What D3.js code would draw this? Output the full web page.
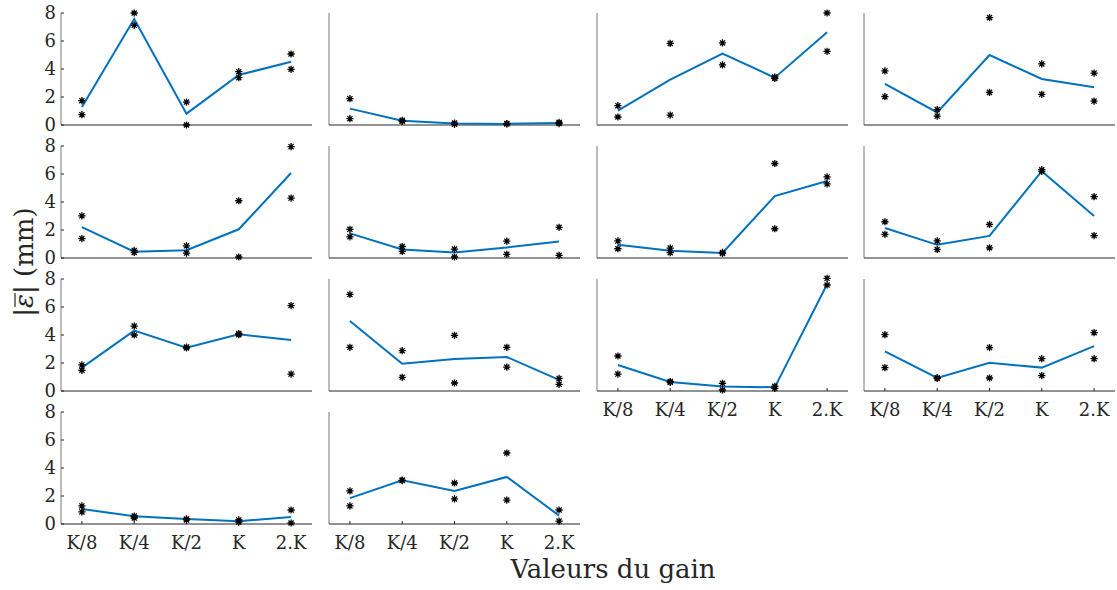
<!DOCTYPE html>
<html>
<head>
<meta charset="utf-8">
<script src="https://cdn.jsdelivr.net/npm/d3@7"></script>
<style>
  body { margin: 0; background: #fff; }
</style>
</head>
<body>
<div id="chart"></div>
<script>
const gains = ['K/8', 'K/4', 'K/2', 'K', '2.K']
const yTicks = [0, 2, 4, 6, 8]

// mean error per gain, one array per panel
const means = [
  [1.29, 7.57, 0.81, 3.57, 4.52],
  [1.17, 0.31, 0.10, 0.08, 0.15],
  [1.02, 3.24, 5.10, 3.38, 6.62],
  [2.93, 0.90, 5.00, 3.29, 2.69],
  [2.21, 0.45, 0.56, 2.05, 6.07],
  [1.76, 0.61, 0.40, 0.75, 1.18],
  [0.94, 0.52, 0.36, 4.42, 5.50],
  [2.14, 0.94, 1.58, 6.20, 3.00],
  [1.67, 4.31, 3.10, 4.05, 3.64],
  [5.00, 1.95, 2.29, 2.43, 0.79],
  [1.86, 0.64, 0.33, 0.26, 7.62],
  [2.83, 0.93, 2.02, 1.67, 3.21],
  [1.07, 0.55, 0.35, 0.20, 0.50],
  [1.85, 3.12, 2.36, 3.36, 0.60]
]
// first and second trial per gain
const trialA = [
  [1.74, 8.00, 1.64, 3.81, 5.07],
  [1.88, 0.33, 0.14, 0.10, 0.19],
  [1.38, 5.83, 5.86, 3.43, 8.00],
  [3.86, 1.10, 7.67, 4.36, 3.71],
  [3.01, 0.54, 0.87, 4.09, 7.95],
  [2.05, 0.82, 0.64, 1.20, 2.19],
  [1.22, 0.71, 0.40, 6.75, 5.79],
  [2.59, 1.22, 2.40, 6.31, 4.38],
  [1.86, 4.64, 3.14, 4.10, 6.10],
  [6.90, 2.88, 3.98, 3.12, 0.90],
  [2.50, 0.67, 0.55, 0.33, 8.05],
  [4.02, 0.95, 3.10, 2.31, 4.17],
  [1.29, 0.57, 0.36, 0.29, 1.00],
  [2.36, 3.14, 2.93, 5.07, 1.00]
]
const trialB = [
  [0.74, 7.12, 0.00, 3.38, 3.98],
  [0.45, 0.26, 0.05, 0.07, 0.10],
  [0.57, 0.71, 4.29, 3.33, 5.26],
  [2.02, 0.64, 2.33, 2.19, 1.71],
  [1.39, 0.40, 0.35, 0.07, 4.28],
  [1.51, 0.47, 0.07, 0.26, 0.19],
  [0.66, 0.38, 0.33, 2.09, 5.29],
  [1.69, 0.61, 0.73, 6.19, 1.60],
  [1.48, 4.00, 3.07, 4.02, 1.21],
  [3.12, 0.98, 0.57, 1.71, 0.48],
  [1.21, 0.62, 0.07, 0.19, 7.57],
  [1.67, 0.90, 0.93, 1.10, 2.31],
  [0.86, 0.43, 0.29, 0.14, 0.07],
  [1.29, 3.10, 1.79, 1.71, 0.21]
]

const width = 1117, height = 590
const nCols = 4
const colLeft = [61, 329, 597, 864]
const rowTop = [13, 146, 279, 412]
const pw = 251, ph = 112
const lineColor = '#0072bd'
const serif = '"DejaVu Serif", "Liberation Serif", serif'

const svg = d3.select('#chart').append('svg')
  .attr('width', width)
  .attr('height', height)
  .style('font-family', serif)

const x = d3.scalePoint().domain(gains).range([0, pw]).padding(0.4)
const y = d3.scaleLinear().domain([0, 8]).range([ph, 0])

// panels with tick labels under them (last panel of each column)
const bottomPanel = i => i + nCols >= means.length

// asterisk marker path
const star = (s) => {
  const d = s * 0.7071
  return `M${-s},0L${s},0M0,${-s}L0,${s}M${-d},${-d}L${d},${d}M${-d},${d}L${d},${-d}`
}

means.forEach((m, i) => {
  const col = i % nCols, row = Math.floor(i / nCols)
  const g = svg.append('g')
    .attr('transform', 'translate(' + colLeft[col] + ',' + rowTop[row] + ')')

  // y axis line
  g.append('line')
    .attr('x1', 0).attr('x2', 0).attr('y1', 0).attr('y2', ph)
    .attr('stroke', '#7a7a7a').attr('stroke-width', 1)

  if (col === 0) {
    g.selectAll('.ytick').data(yTicks).enter().append('line')
      .attr('x1', 0).attr('x2', 3)
      .attr('y1', d => y(d)).attr('y2', d => y(d))
      .attr('stroke', '#262626')
    g.selectAll('.ylab').data(yTicks).enter().append('text')
      .attr('x', -5)
      .attr('y', d => y(d))
      .attr('dy', '0.36em')
      .attr('text-anchor', 'end')
      .attr('font-size', 18)
      .attr('fill', '#262626')
      .text(d => d)
  }

  // x axis line
  g.append('line')
    .attr('x1', 0).attr('x2', pw).attr('y1', ph).attr('y2', ph)
    .attr('stroke', '#262626').attr('stroke-width', 1)

  if (bottomPanel(i)) {
    g.selectAll('.xtick').data(gains).enter().append('line')
      .attr('x1', d => x(d)).attr('x2', d => x(d))
      .attr('y1', ph).attr('y2', ph - 3)
      .attr('stroke', '#262626')
    g.selectAll('.xlab').data(gains).enter().append('text')
      .attr('x', d => x(d))
      .attr('y', ph + 25)
      .attr('text-anchor', 'middle')
      .attr('font-size', 18)
      .attr('fill', '#262626')
      .text(d => d)
  }

  // mean line
  const line = d3.line()
    .x((d, j) => x(gains[j]))
    .y(d => y(d))
  g.append('path')
    .datum(m)
    .attr('d', line)
    .attr('fill', 'none')
    .attr('stroke', lineColor)
    .attr('stroke-width', 2)

  // trial markers
  const pts = []
  gains.forEach((k, j) => {
    pts.push({ k, v: trialA[i][j] })
    pts.push({ k, v: trialB[i][j] })
  })
  g.selectAll('.pt').data(pts).enter().append('path')
    .attr('transform', d => 'translate(' + x(d.k) + ',' + y(d.v) + ')')
    .attr('d', star(3.6))
    .attr('stroke', '#000')
    .attr('stroke-width', 1.3)
    .attr('fill', 'none')
})

// axis titles
svg.append('text')
  .attr('x', 613)
  .attr('y', 578)
  .attr('text-anchor', 'middle')
  .attr('font-size', 26)
  .attr('fill', '#262626')
  .text('Valeurs du gain')

const ylab = svg.append('g')
  .attr('transform', 'translate(33,262) rotate(-90)')
const yt = ylab.append('text')
  .attr('text-anchor', 'middle')
  .attr('font-size', 26)
  .attr('fill', '#262626')
yt.append('tspan').text('|')
yt.append('tspan').attr('font-style', 'italic').text('ε')
yt.append('tspan').text('| (mm)')
// bar over epsilon
const e0 = yt.node().getStartPositionOfChar(1)
const e1 = yt.node().getEndPositionOfChar(1)
ylab.append('line')
  .attr('x1', e0.x + 1).attr('x2', e1.x + 1)
  .attr('y1', -18).attr('y2', -18)
  .attr('stroke', '#262626').attr('stroke-width', 1.2)
</script>
</body>
</html>
